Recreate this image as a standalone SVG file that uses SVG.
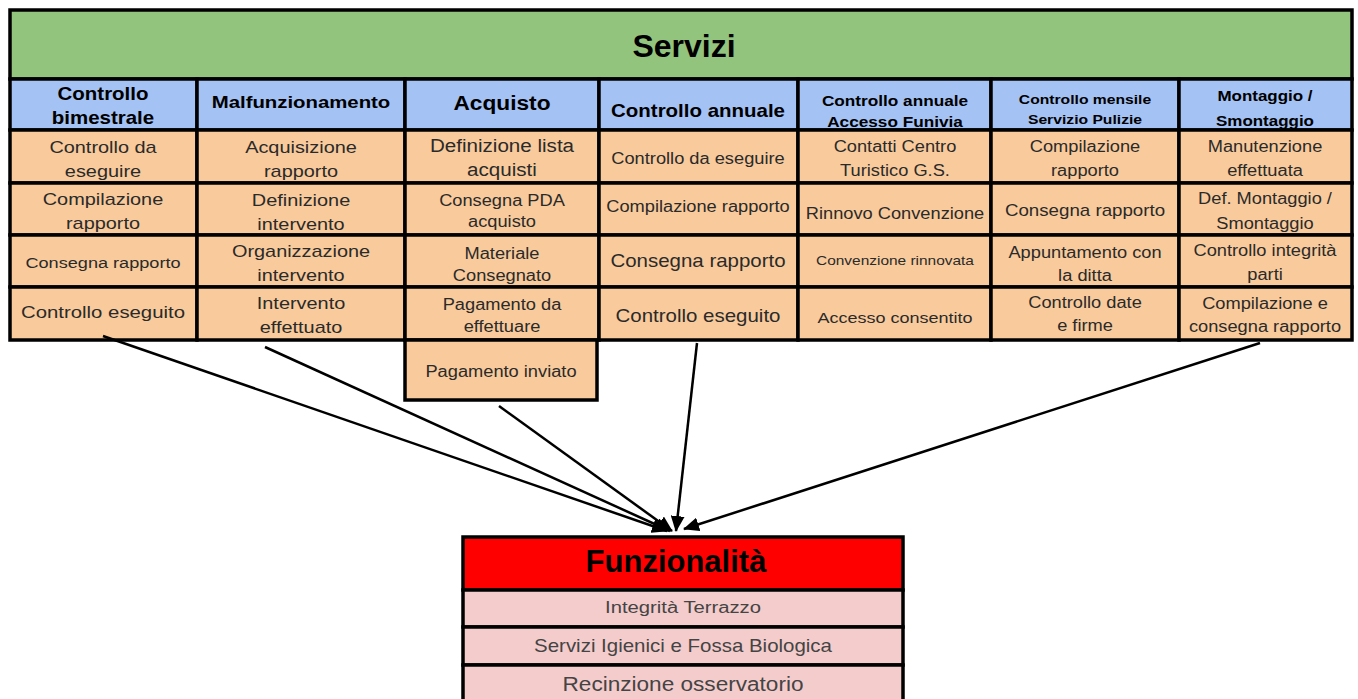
<svg xmlns="http://www.w3.org/2000/svg" width="1358" height="699" viewBox="0 0 1358 699">
<defs>
<style>
.c{stroke:#000;stroke-width:3.5}
.g{fill:#93c47d}.b{fill:#a4c2f4}.o{fill:#f9cb9c}.r{fill:#ff0000}.p{fill:#f4cccc}
text{font-family:"Liberation Sans",Arial,sans-serif;text-anchor:middle}
.h{font-weight:bold;fill:#000}
.t{fill:#2a2a2a;font-size:15.6px}
.q{fill:#444;font-size:17.3px}
.l{fill:none;stroke:#000;stroke-width:2.5}
</style>
<marker id="ah" markerUnits="userSpaceOnUse" markerWidth="16" markerHeight="14" refX="15" refY="7" orient="auto">
<path d="M0,0 L16,7 L0,14 Z" fill="#000"/>
</marker>
</defs>
<rect width="1358" height="699" fill="#fff"/>

<g id="servizi">
<rect class="c g" x="10" y="10" width="1342" height="69"/>
<text class="h" x="684" y="57" style="font-size:32px">Servizi</text>
</g>

<g id="col1">
<rect class="c b" x="10" y="79" width="187" height="51"/>
<rect class="c o" x="10" y="130" width="187" height="53"/>
<rect class="c o" x="10" y="183" width="187" height="52"/>
<rect class="c o" x="10" y="235" width="187" height="52"/>
<rect class="c o" x="10" y="287" width="187" height="53"/>
<g transform="translate(103 0) scale(1.17 1)">
<text class="h" x="0" y="100" style="font-size:17.5px">Controllo</text>
<text class="h" x="0" y="124" style="font-size:17.5px">bimestrale</text>
<text class="t" x="0" y="153" style="font-size:17px">Controllo da</text>
<text class="t" x="0" y="177" style="font-size:17px">eseguire</text>
<text class="t" x="0" y="205" style="font-size:17px">Compilazione</text>
<text class="t" x="0" y="229" style="font-size:17px">rapporto</text>
<text class="t" x="0" y="268" style="font-size:15.5px">Consegna rapporto</text>
<text class="t" x="0" y="318" style="font-size:17.4px">Controllo eseguito</text>
</g>
</g>

<g id="col2">
<rect class="c b" x="197" y="79" width="208" height="51"/>
<rect class="c o" x="197" y="130" width="208" height="53"/>
<rect class="c o" x="197" y="183" width="208" height="52"/>
<rect class="c o" x="197" y="235" width="208" height="52"/>
<rect class="c o" x="197" y="287" width="208" height="53"/>
<g transform="translate(301 0) scale(1.17 1)">
<text class="h" x="0" y="108" style="font-size:17.4px">Malfunzionamento</text>
<text class="t" x="0" y="153" style="font-size:17px">Acquisizione</text>
<text class="t" x="0" y="177" style="font-size:17px">rapporto</text>
<text class="t" x="0" y="206" style="font-size:17px">Definizione</text>
<text class="t" x="0" y="230" style="font-size:17px">intervento</text>
<text class="t" x="0" y="257" style="font-size:17px">Organizzazione</text>
<text class="t" x="0" y="281" style="font-size:17px">intervento</text>
<text class="t" x="0" y="309" style="font-size:17px">Intervento</text>
<text class="t" x="0" y="333" style="font-size:17px">effettuato</text>
</g>
</g>

<g id="col3">
<rect class="c b" x="405" y="79" width="194" height="51"/>
<rect class="c o" x="405" y="130" width="194" height="53"/>
<rect class="c o" x="405" y="183" width="194" height="52"/>
<rect class="c o" x="405" y="235" width="194" height="52"/>
<rect class="c o" x="405" y="287" width="194" height="53"/>
<g transform="translate(502 0) scale(1.17 1)">
<text class="h" x="0" y="110" style="font-size:19.4px">Acquisto</text>
<text class="t" x="0" y="152" style="font-size:17.6px">Definizione lista</text>
<text class="t" x="0" y="176" style="font-size:17.6px">acquisti</text>
<text class="t" x="0" y="206">Consegna PDA</text>
<text class="t" x="0" y="227">acquisto</text>
<text class="t" x="0" y="259">Materiale</text>
<text class="t" x="0" y="281">Consegnato</text>
<text class="t" x="0" y="310">Pagamento da</text>
<text class="t" x="0" y="332">effettuare</text>
</g>
</g>

<g id="pagamento-inviato">
<rect class="c o" x="405" y="340" width="192" height="60"/>
<text class="t" transform="translate(501 0) scale(1.17 1)" x="0" y="377">Pagamento inviato</text>
</g>

<g id="col4">
<rect class="c b" x="599" y="79" width="199" height="51"/>
<rect class="c o" x="599" y="130" width="199" height="53"/>
<rect class="c o" x="599" y="183" width="199" height="52"/>
<rect class="c o" x="599" y="235" width="199" height="52"/>
<rect class="c o" x="599" y="287" width="199" height="53"/>
<g transform="translate(698 0) scale(1.17 1)">
<text class="h" x="0" y="117" style="font-size:17.5px">Controllo annuale</text>
<text class="t" x="0" y="164">Controllo da eseguire</text>
<text class="t" x="0" y="212">Compilazione rapporto</text>
<text class="t" x="0" y="267" style="font-size:17.5px">Consegna rapporto</text>
<text class="t" x="0" y="322" style="font-size:17.5px">Controllo eseguito</text>
</g>
</g>

<g id="col5">
<rect class="c b" x="798" y="79" width="193" height="51"/>
<rect class="c o" x="798" y="130" width="193" height="53"/>
<rect class="c o" x="798" y="183" width="193" height="52"/>
<rect class="c o" x="798" y="235" width="193" height="52"/>
<rect class="c o" x="798" y="287" width="193" height="53"/>
<g transform="translate(895 0) scale(1.17 1)">
<text class="h" x="0" y="106" style="font-size:14.7px">Controllo annuale</text>
<text class="h" x="0" y="127" style="font-size:14.7px">Accesso Funivia</text>
<text class="t" x="0" y="152">Contatti Centro</text>
<text class="t" x="0" y="176">Turistico G.S.</text>
<text class="t" x="0" y="219">Rinnovo Convenzione</text>
<text class="t" x="0" y="265" style="font-size:13.2px">Convenzione rinnovata</text>
<text class="t" x="0" y="323" style="font-size:15.4px">Accesso consentito</text>
</g>
</g>

<g id="col6">
<rect class="c b" x="991" y="79" width="188" height="51"/>
<rect class="c o" x="991" y="130" width="188" height="53"/>
<rect class="c o" x="991" y="183" width="188" height="52"/>
<rect class="c o" x="991" y="235" width="188" height="52"/>
<rect class="c o" x="991" y="287" width="188" height="53"/>
<g transform="translate(1085 0) scale(1.17 1)">
<text class="h" x="0" y="104" style="font-size:13.4px">Controllo mensile</text>
<text class="h" x="0" y="124" style="font-size:13.4px">Servizio Pulizie</text>
<text class="t" x="0" y="152">Compilazione</text>
<text class="t" x="0" y="176">rapporto</text>
<text class="t" x="0" y="216" style="font-size:16px">Consegna rapporto</text>
<text class="t" x="0" y="258">Appuntamento con</text>
<text class="t" x="0" y="281">la ditta</text>
<text class="t" x="0" y="308">Controllo date</text>
<text class="t" x="0" y="331">e firme</text>
</g>
</g>

<g id="col7">
<rect class="c b" x="1179" y="79" width="173" height="51"/>
<rect class="c o" x="1179" y="130" width="173" height="53"/>
<rect class="c o" x="1179" y="183" width="173" height="52"/>
<rect class="c o" x="1179" y="235" width="173" height="52"/>
<rect class="c o" x="1179" y="287" width="173" height="53"/>
<g transform="translate(1265 0) scale(1.17 1)">
<text class="h" x="0" y="101" style="font-size:14.5px">Montaggio /</text>
<text class="h" x="0" y="126" style="font-size:14.5px">Smontaggio</text>
<text class="t" x="0" y="152">Manutenzione</text>
<text class="t" x="0" y="176">effettuata</text>
<text class="t" x="0" y="204">Def. Montaggio /</text>
<text class="t" x="0" y="229">Smontaggio</text>
<text class="t" x="0" y="256">Controllo integrità</text>
<text class="t" x="0" y="280">parti</text>
<text class="t" x="0" y="309">Compilazione e</text>
<text class="t" x="0" y="332">consegna rapporto</text>
</g>
</g>

<g id="funzionalita">
<rect class="c r" x="463" y="537" width="440" height="53"/>
<rect class="c p" x="463" y="590" width="440" height="37"/>
<rect class="c p" x="463" y="627" width="440" height="38"/>
<rect class="c p" x="463" y="665" width="440" height="40"/>
<text class="h" x="676" y="572" style="font-size:31px">Funzionalità</text>
<g transform="translate(683 0) scale(1.17 1)">
<text class="q" x="0" y="613">Integrità Terrazzo</text>
<text class="q" x="0" y="652" style="font-size:17.5px">Servizi Igienici e Fossa Biologica</text>
<text class="q" x="0" y="691" style="font-size:19.3px">Recinzione osservatorio</text>
</g>
</g>

<g id="connectors">
<path class="l" d="M103,336 L667,531" marker-end="url(#ah)"/>
<path class="l" d="M265,347 L670,531" marker-end="url(#ah)"/>
<path class="l" d="M499,406 L672,531" marker-end="url(#ah)"/>
<path class="l" d="M697,343 L676,531" marker-end="url(#ah)"/>
<path class="l" d="M1260,343 L684,529" marker-end="url(#ah)"/>
</g>
</svg>
